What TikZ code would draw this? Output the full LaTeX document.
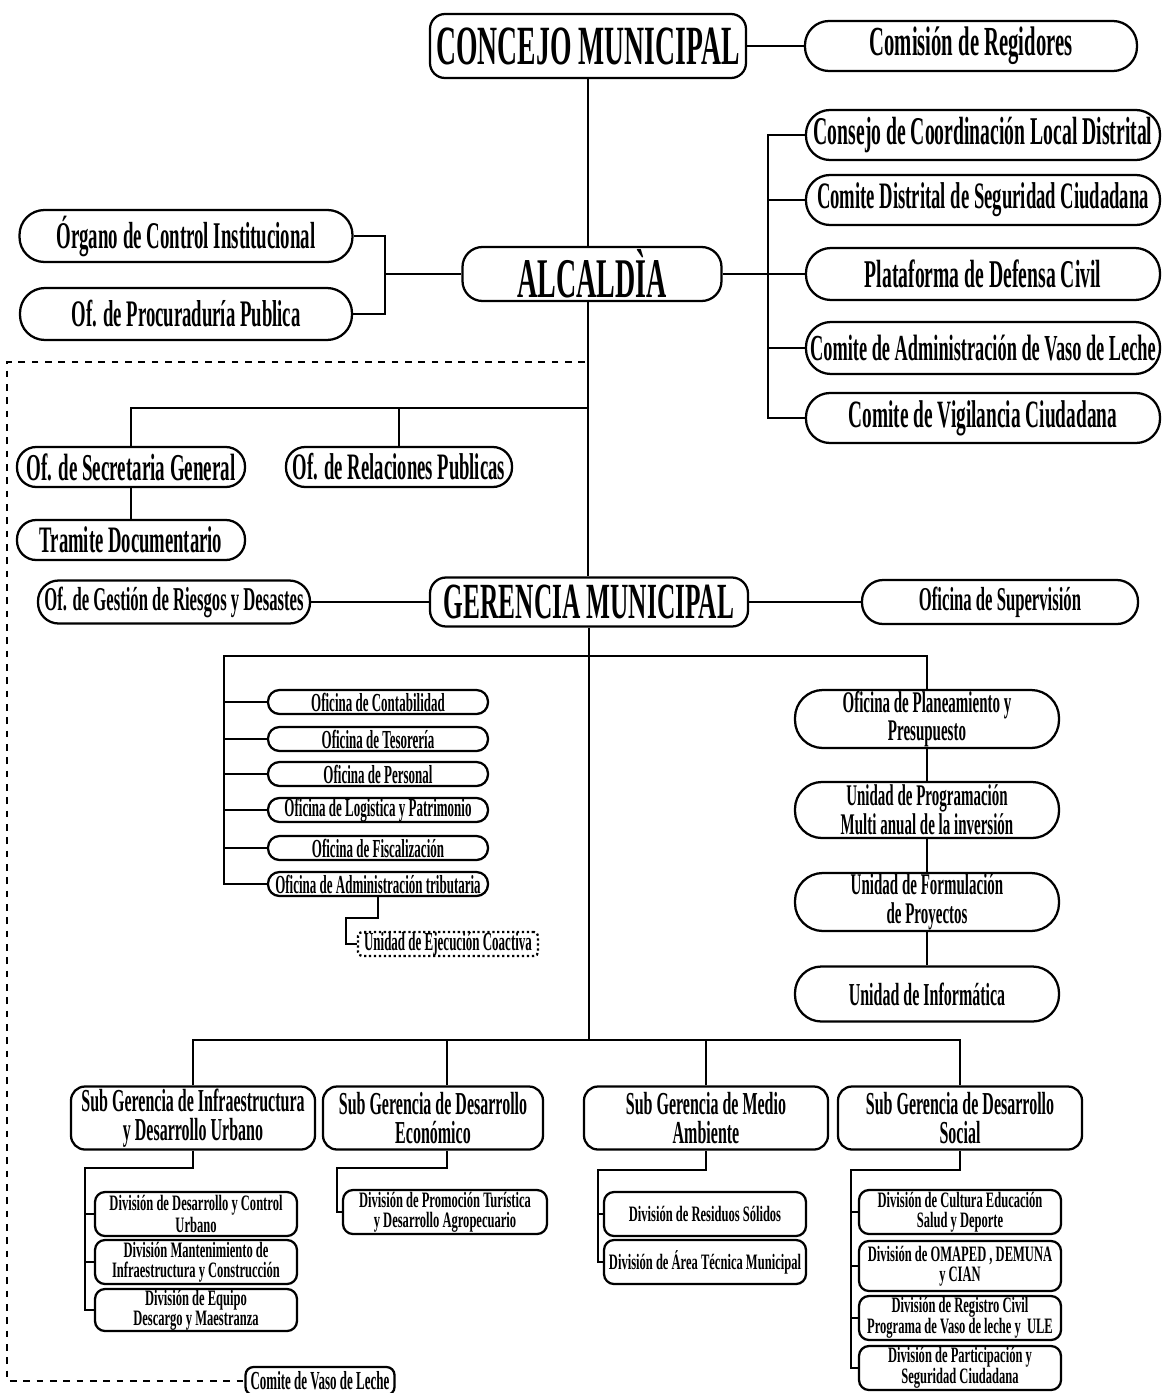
\documentclass[tikz,border=0pt]{standalone}
\usepackage{fontspec}
\setmainfont{Liberation Serif}[FakeStretch=0.5]
\newfontfamily\divf{Liberation Serif}[FakeStretch=0.57]
\newcommand\fsz[2]{\fontsize{#1pt}{#2pt}\selectfont\bfseries}
\newcommand\dsz[2]{\divf\fontsize{#1pt}{#2pt}\selectfont\bfseries}
\begin{document}
\begin{tikzpicture}[x=0.75pt,y=-0.75pt,
  bx/.style n args={3}{draw, line width=1.7pt, fill=white, inner sep=0pt, align=center,
     minimum width=#1*0.75pt, minimum height=#2*0.75pt, rounded corners=#3*0.75pt},
  pill/.style 2 args={bx={#1}{#2}{#2*0.48}},
  conn/.style={line width=2.2pt},
  thinconn/.style={line width=1.8pt},
  dashline/.style={line width=1.8pt, dash pattern=on 5pt off 5pt},
]
\useasboundingbox (0,0) rectangle (1163,1393);
\fill[white] (0,0) rectangle (1163,1393);

% top level
\node[bx={316}{64}{15}, font=\fsz{41.5}{43}] (concejo) at (588,46) {CONCEJO MUNICIPAL};
\node[pill={332}{50}, font=\fsz{31}{33}] (comision) at (971,46) {Comisión de Regidores};
\node[bx={259}{54}{20}, font=\fsz{42}{44}] (alcaldia) at (592,274) {ALCALDÌA};

\node[pill={333}{52}, font=\fsz{28.3}{30}] (organo) at (186,236) {Órgano de Control Institucional};
\node[pill={332}{52}, font=\fsz{28.1}{30}] (procur) at (186,314) {Of. de Procuraduría Publica};

\node[pill={354}{50}, font=\fsz{29.5}{31}] (consejo) at (983,135) {Consejo de Coordinación Local Distrital};
\node[pill={354}{50}, font=\fsz{28}{30}] (cdsc) at (983,200) {Comite Distrital de Seguridad Ciudadana};
\node[pill={354}{52}, font=\fsz{29.5}{31}] (plataf) at (983,274) {Plataforma de Defensa Civil};
\node[pill={354}{52}, font=\fsz{27.5}{30}] (cavl) at (983,348) {Comite de Administración de Vaso de Leche};
\node[pill={354}{50}, font=\fsz{29}{31}] (cvc) at (983,418) {Comite de Vigilancia Ciudadana};

\node[pill={228}{40}, font=\fsz{28.5}{31}] (secret) at (131,467) {Of. de Secretaria General};
\node[pill={226}{40}, font=\fsz{28}{30}] (relac) at (399,467) {Of. de Relaciones Publicas};
\node[pill={228}{40}, font=\fsz{28}{30}] (tramite) at (131,540) {Tramite Documentario};

\node[pill={272}{43}, font=\fsz{25}{27}] (gestion) at (174,602) {Of. de Gestión de Riesgos y Desastes};
\node[bx={318}{49}{16}, font=\fsz{38}{40}] (gerencia) at (589,602) {GERENCIA MUNICIPAL};
\node[pill={276}{44}, font=\fsz{25}{27}] (superv) at (1000,602) {Oficina de Supervisión};

% offices
\begin{scope}[every node/.style={pill={220}{24}, font=\fsz{19.5}{21}}]
\node (contab) at (378,702) {Oficina de Contabilidad};
\node (tesor) at (378,739) {Oficina de Tesorería};
\node (person) at (378,774) {Oficina de Personal};
\node (logist) at (378,810) {Oficina de Logistica y Patrimonio};
\node (fiscal) at (378,848) {Oficina de Fiscalización};
\node (admtrib) at (378,884) {Oficina de Administración tributaria};
\end{scope}
\node[bx={180}{24}{4}, dotted, font=\fsz{19.5}{21}] (uec) at (448,944) {Unidad de Ejecución Coactiva};

\node[pill={264}{58}, font=\fsz{22.5}{21.5}] (planea) at (927,719) {Oficina de Planeamiento y\\Presupuesto};
\node[pill={264}{56}, font=\fsz{22.5}{21.5}] (uprog) at (927,810) {Unidad de Programación\\Multi anual de la inversión};
\node[pill={264}{58}, font=\fsz{22.5}{21.5}] (uform) at (927,902) {Unidad de Formulación\\de Proyectos};
\node[pill={264}{55}, font=\fsz{24}{20}] (uinfo) at (927,994) {Unidad de Informática};

% sub gerencias
\begin{scope}[every node/.style={bx={244}{63}{14}, font=\fsz{24}{22}}]
\node (sgInfra) at (193,1118) {Sub Gerencia de Infraestructura\\y Desarrollo Urbano};
\node[minimum width=220*0.75pt] (sgEcon) at (433,1118) {Sub Gerencia de Desarrollo\\Económico};
\node (sgMedio) at (706,1118) {Sub Gerencia de Medio\\Ambiente};
\node (sgSocial) at (960,1118) {Sub Gerencia de Desarrollo\\Social};
\end{scope}

% divisions
\begin{scope}[every node/.style={bx={202}{44}{10}, font=\dsz{16.5}{15}}]
\node (d1) at (196,1214) {División de Desarrollo y Control\\Urbano};
\node (d2) at (196,1262) {División Mantenimiento de\\Infraestructura y Construcción};
\node[minimum height=42*0.75pt] (d3) at (196,1310) {División de Equipo\\Descargo y Maestranza};
\node[minimum width=204*0.75pt] (dEcon) at (445,1212) {División de Promoción Turística\\y Desarrollo Agropecuario};
\node (dRes) at (705,1214) {División de Residuos Sólidos};
\node (dArea) at (705,1262) {División de Área Técnica Municipal};
\node (dCult) at (960,1212) {División de Cultura Educación\\Salud y Deporte};
\node[minimum height=50*0.75pt] (dOmap) at (960,1266) {División de OMAPED , DEMUNA\\y CIAN};
\node (dReg) at (960,1318) {División de Registro Civil\\Programa de Vaso de leche y~ ULE};
\node (dPart) at (960,1368) {División de Participación y\\Seguridad Ciudadana};
\end{scope}
\node[bx={149}{28}{8}, font=\fsz{19.5}{21}] (cvl) at (320,1381) {Comite de Vaso de Leche};

% coordinates
\coordinate (brk) at (385,274);
\coordinate (rbus) at (768,274);
\coordinate (b1) at (588,408);
\coordinate (b2l) at (224,656);
\coordinate (b2r) at (927,656);
\coordinate (k1) at (346,918);
\coordinate (b3) at (588,1040);
\coordinate (b3r) at (960,1040);
\coordinate (dEc) at (447,1040);
\coordinate (i1) at (85,1168);
\coordinate (e1) at (337,1168);
\coordinate (m1) at (598,1170);
\coordinate (s1) at (851,1170);
\coordinate (dA) at (585,362);
\coordinate (dB) at (7,362);

% connectors
\begin{scope}[conn]
\draw (concejo.east) -- (comision.west);
\draw (concejo.south) -- (concejo.south |- alcaldia.north);
\draw (concejo.south |- alcaldia.south) -- (concejo.south |- gerencia.north);
\draw (organo.east) -| (brk) |- (procur.east);
\draw (brk) -- (alcaldia.west);
\draw (alcaldia.east) -- (plataf.west);
\draw (consejo.west) -| (rbus) |- (cvc.west);
\draw (cdsc.west) -- (cdsc.west -| rbus);
\draw (cavl.west) -- (cavl.west -| rbus);
\draw (secret.north) |- (b1);
\draw (relac.north) -- (relac.north |- b1);
\draw (secret.south) -- (tramite.north);
\draw (gestion.east) -- (gerencia.west);
\draw (gerencia.east) -- (superv.west);
\draw (gerencia.south) -- (gerencia.south |- b3);
\draw (admtrib.west) -| (b2l) -- (b2r) -- (planea.north);
\foreach \n in {contab,tesor,person,logist,fiscal}
  \draw (\n.west) -- (\n.west -| b2l);
\draw (admtrib.south) |- (k1) |- (uec.west);
\draw (planea.south) -- (uprog.north);
\draw (uprog.south) -- (uform.north);
\draw (uform.south) -- (uinfo.north);
\draw (sgInfra.north) |- (b3r) -- (sgSocial.north);
\draw (dEc) -- (dEc |- sgEcon.north);
\draw (sgMedio.north) -- (sgMedio.north |- b3);
\end{scope}
\begin{scope}[thinconn]
\draw (sgInfra.south) |- (i1) |- (d3.west);
\draw (d1.west) -- (d1.west -| i1);
\draw (d2.west) -- (d2.west -| i1);
\draw (dEc |- sgEcon.south) |- (e1) |- (dEcon.west);
\draw (sgMedio.south) |- (m1) |- (dArea.west);
\draw (dRes.west) -- (dRes.west -| m1);
\draw (sgSocial.south) |- (s1) |- (dPart.west);
\draw (dCult.west) -- (dCult.west -| s1);
\draw (dOmap.west) -- (dOmap.west -| s1);
\draw (dReg.west) -- (dReg.west -| s1);
\end{scope}
\draw[dashline] (dA) -- (dB) |- (cvl.west);
\end{tikzpicture}
\end{document}
